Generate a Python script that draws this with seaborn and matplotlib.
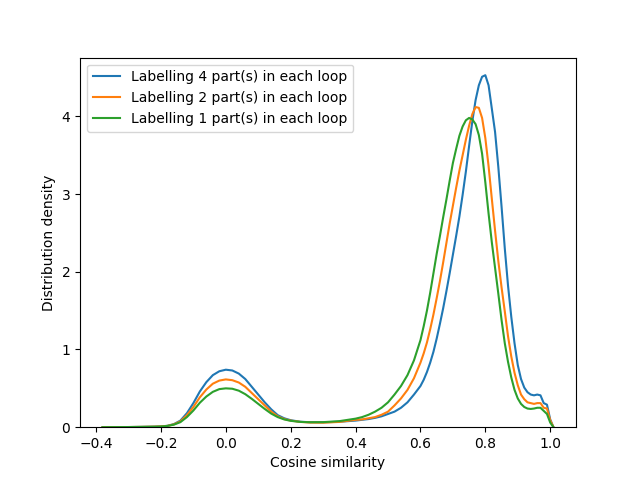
import matplotlib
matplotlib.use("Agg")
import matplotlib.pyplot as plt
import pandas as pd
import seaborn as sns

X = [-0.38, -0.34, -0.30, -0.26, -0.22,
     -0.20, -0.18, -0.16, -0.14, -0.12, -0.10, -0.08, -0.06, -0.04, -0.02,
     0.00, 0.02, 0.04, 0.06, 0.08, 0.10, 0.12, 0.14, 0.16, 0.18, 0.20,
     0.23, 0.26, 0.30, 0.35,
     0.40, 0.42, 0.44, 0.46, 0.48, 0.50, 0.52, 0.54, 0.56, 0.58, 0.60,
     0.61, 0.62, 0.63, 0.64, 0.65, 0.66, 0.67, 0.68, 0.69, 0.70,
     0.71, 0.72, 0.73, 0.74, 0.75, 0.76, 0.77, 0.78, 0.79, 0.80,
     0.81, 0.82, 0.83, 0.84, 0.85, 0.86, 0.87, 0.88, 0.89, 0.90,
     0.91, 0.92, 0.93, 0.94, 0.95, 0.96, 0.97, 0.98, 0.99, 1.00, 1.01]

DENS_4 = [0.0, 0.001, 0.002, 0.004, 0.007,
          0.010, 0.018, 0.040, 0.085, 0.18, 0.31, 0.46, 0.58, 0.67, 0.72,
          0.74, 0.73, 0.69, 0.62, 0.52, 0.42, 0.32, 0.23, 0.155, 0.115, 0.09,
          0.070, 0.064, 0.063, 0.070,
          0.085, 0.095, 0.105, 0.12, 0.14, 0.17, 0.20, 0.25, 0.32, 0.42, 0.53,
          0.61, 0.71, 0.83, 0.97, 1.14, 1.33, 1.53, 1.75, 1.98, 2.22,
          2.46, 2.71, 2.99, 3.29, 3.62, 3.94, 4.21, 4.40, 4.51, 4.53,
          4.40, 4.10, 3.80, 3.35, 2.84, 2.30, 1.82, 1.42, 1.08, 0.80,
          0.62, 0.51, 0.45, 0.42, 0.41, 0.42, 0.41, 0.31, 0.29, 0.10, 0.0]

DENS_2 = [0.0, 0.001, 0.002, 0.004, 0.007,
          0.010, 0.017, 0.037, 0.075, 0.155, 0.26, 0.385, 0.485, 0.56, 0.60,
          0.615, 0.605, 0.575, 0.52, 0.44, 0.36, 0.28, 0.20, 0.14, 0.105, 0.085,
          0.068, 0.060, 0.058, 0.068,
          0.095, 0.10, 0.115, 0.13, 0.16, 0.20, 0.28, 0.37, 0.48, 0.63, 0.83,
          0.95, 1.09, 1.26, 1.45, 1.66, 1.88, 2.12, 2.37, 2.62, 2.85,
          3.08, 3.30, 3.50, 3.70, 3.88, 4.03, 4.12, 4.11, 3.98, 3.72,
          3.36, 2.94, 2.53, 2.14, 1.80, 1.49, 1.17, 0.91, 0.70, 0.54,
          0.42, 0.36, 0.32, 0.31, 0.30, 0.31, 0.31, 0.25, 0.24, 0.09, 0.0]

DENS_1 = [0.0, 0.001, 0.002, 0.004, 0.006,
          0.009, 0.016, 0.033, 0.065, 0.13, 0.215, 0.315, 0.395, 0.455, 0.49,
          0.50, 0.495, 0.47, 0.425, 0.365, 0.30, 0.235, 0.175, 0.13, 0.10, 0.082,
          0.068, 0.064, 0.065, 0.078,
          0.11, 0.13, 0.16, 0.20, 0.25, 0.32, 0.42, 0.53, 0.67, 0.86, 1.12,
          1.30, 1.50, 1.73, 1.98, 2.23, 2.46, 2.70, 2.93, 3.17, 3.40,
          3.58, 3.75, 3.87, 3.95, 3.98, 3.96, 3.90, 3.76, 3.52, 3.15,
          2.75, 2.38, 2.05, 1.72, 1.38, 1.08, 0.84, 0.64, 0.48, 0.37,
          0.30, 0.26, 0.24, 0.235, 0.24, 0.25, 0.25, 0.21, 0.17, 0.06, 0.0]

LABELS = ["Labelling 4 part(s) in each loop",
          "Labelling 2 part(s) in each loop",
          "Labelling 1 part(s) in each loop"]
COLORS = ["#1f77b4", "#ff7f0e", "#2ca02c"]

fig, ax = plt.subplots(figsize=(6.4, 4.8), dpi=100)

for dens, label, color in zip([DENS_4, DENS_2, DENS_1], LABELS, COLORS):
    df = pd.DataFrame({"x": X, "y": dens})
    sns.lineplot(data=df, x="x", y="y", ax=ax, color=color, label=label, linewidth=1.5)

ax.set_ylim(bottom=0)
ax.set_xlabel("Cosine similarity")
ax.set_ylabel("Distribution density")
ax.legend(loc="upper left")

plt.savefig("out.png", dpi=100)
plt.close()
